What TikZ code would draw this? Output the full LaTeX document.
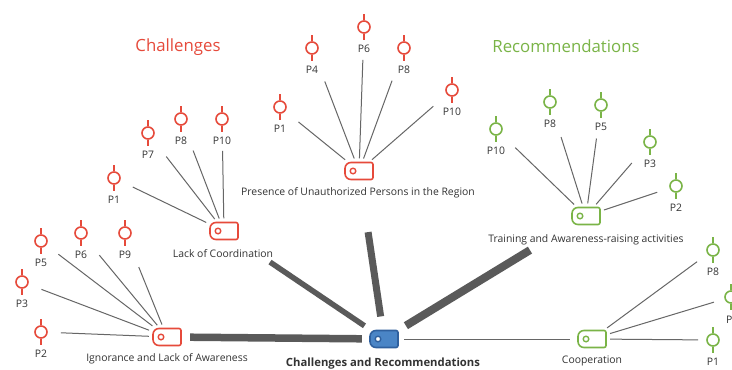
\documentclass[tikz,border=0pt]{standalone}
\usepackage{fontspec}
\setmainfont{Open Sans}
\definecolor{cred}{HTML}{E64A3B}
\definecolor{cgreen}{HTML}{7AB447}
\definecolor{cblue}{HTML}{4A85C6}
\definecolor{cbluedark}{HTML}{2F609E}
\definecolor{ctext}{HTML}{333333}
\definecolor{cline}{HTML}{5A5A5A}
\definecolor{cthin}{HTML}{666666}
\tikzset{
  lbl/.style={font=\fontsize{10.4}{12}\selectfont, text=ctext, inner sep=0pt},
  pinnode/.style={circle, draw=#1, line width=1.6pt, minimum size=12pt, inner sep=0pt},
  thinlink/.style={draw=cthin, line width=1pt, shorten <=4pt, shorten >=#1},
  thicklink/.style={draw=cline, line width=#1},
}
\newcommand\pinat[5]{%
  \node[pinnode=#5] (#1) at (#2,#3) {};
  \draw[#5, line width=1.6pt] (#1.north) -- ++(0,-6) (#1.south) -- ++(0,6);
  \node[lbl] (#1-l) at (#2,#3+22) {#4};
}
\newcommand\tagat[5]{%
  \node[minimum width=28pt, minimum height=17pt, inner sep=0pt] (#1) at (#2,#3) {};
  \draw[draw=#4, fill=#5, line width=1.6pt] (#2,#3-8.5) [rounded corners=6pt] -- (#2-14,#3-8.5) -- (#2-14,#3+8.5) -- (#2,#3+8.5) [rounded corners=2pt] -- (#2+14,#3+8.5) -- (#2+14,#3-8.5) -- cycle;
  \draw[draw=#4, line width=1.4pt, fill=white] (#2-6,#3) circle (2.8pt);
}
\newcommand\plink[3]{\draw[thinlink=#3pt] (#1) -- (#2);}
\begin{document}
\begin{tikzpicture}[x=1pt,y=-1pt]
\useasboundingbox (0,0) rectangle (732,370);
\fill[white] (0,0) rectangle (732,370);

% titles
\node[font=\fontsize{16.8}{20}\selectfont, text=cred, inner sep=0pt] (tch) at (178,47) {Challenges};
\node[font=\fontsize{16.8}{20}\selectfont, text=cgreen, inner sep=0pt] (trec) at (566,46) {Recommendations};

% tags
\tagat{hub}{384}{339}{cbluedark}{cblue}
\tagat{coop}{592}{339}{cgreen}{white}
\tagat{ign}{167}{337}{cred}{white}
\tagat{lack}{224}{231}{cred}{white}
\tagat{pres}{359}{171}{cred}{white}
\tagat{train}{586}{216}{cgreen}{white}

\node[lbl, font=\bfseries\fontsize{11.3}{13}\selectfont] (hub-l) at (383,364) {Challenges and Recommendations};
\node[lbl] (coop-l) at (592,361) {Cooperation};
\node[lbl] (ign-l) at (167,359) {Ignorance and Lack of Awareness};
\node[lbl] (lack-l) at (223,254) {Lack of Coordination};
\node[lbl] (pres-l) at (358,193) {Presence of Unauthorized Persons in the Region};
\node[lbl] (train-l) at (586,240) {Training and Awareness-raising activities};

% thick links
\draw[thicklink=7.5pt, shorten <=9pt, shorten >=8pt] (ign) -- (hub);
\draw[thicklink=5.5pt, shorten <=40pt, shorten >=8pt] (lack) -- (hub);
\draw[thicklink=7pt, shorten <=53pt, shorten >=14pt] (pres) -- (hub);
\draw[thicklink=8pt, shorten <=49pt, shorten >=9pt] (train) -- (hub);
\draw[draw=cthin, line width=1pt, shorten <=6pt, shorten >=8pt] (hub) -- (coop);

% Ignorance pins
\pinat{i5}{41}{241}{P5}{cred}
\pinat{i6}{81}{233}{P6}{cred}
\pinat{i9}{125}{233}{P9}{cred}
\pinat{i3}{22}{282}{P3}{cred}
\pinat{i2}{41}{332}{P2}{cred}
\plink{ign}{i5}{15}
\plink{ign}{i6}{22}
\plink{ign}{i9}{30}
\plink{ign}{i3}{14}
\plink{ign}{i2}{13}

% Lack of Coordination pins
\pinat{l1}{114}{178}{P1}{cred}
\pinat{l7}{148}{133}{P7}{cred}
\pinat{l8}{181}{119}{P8}{cred}
\pinat{l10}{222}{119}{P10}{cred}
\plink{lack}{l1}{14}
\plink{lack}{l7}{23}
\plink{lack}{l8}{27}
\plink{lack}{l10}{25}

% Presence pins
\pinat{p1}{280}{107}{P1}{cred}
\pinat{p4}{312}{48}{P4}{cred}
\pinat{p6}{364}{27}{P6}{cred}
\pinat{p8}{404}{48}{P8}{cred}
\pinat{p10}{452}{90}{P10}{cred}
\plink{pres}{p1}{17}
\plink{pres}{p4}{29}
\plink{pres}{p6}{26}
\plink{pres}{p8}{28}
\plink{pres}{p10}{18}

% Training pins
\pinat{t10}{496}{129}{P10}{cgreen}
\pinat{t8}{550}{102}{P8}{cgreen}
\pinat{t5}{601}{105}{P5}{cgreen}
\pinat{t3}{650}{142}{P3}{cgreen}
\pinat{t2}{676}{186}{P2}{cgreen}
\plink{train}{t10}{20}
\plink{train}{t8}{30}
\plink{train}{t5}{27}
\plink{train}{t3}{21}
\plink{train}{t2}{13}

% Cooperation pins
\pinat{c8}{713}{250}{P8}{cgreen}
\node[pinnode=cgreen] (cx) at (731,297) {};
\draw[cgreen, line width=1.6pt] (cx.north) -- ++(0,-6) (cx.south) -- ++(0,6);
\node[lbl, anchor=west] (cx-l) at (726,320) {P};
\pinat{c1}{713}{340}{P1}{cgreen}
\plink{coop}{c8}{13}
\plink{coop}{cx}{11}
\plink{coop}{c1}{8}
\end{tikzpicture}
\end{document}
